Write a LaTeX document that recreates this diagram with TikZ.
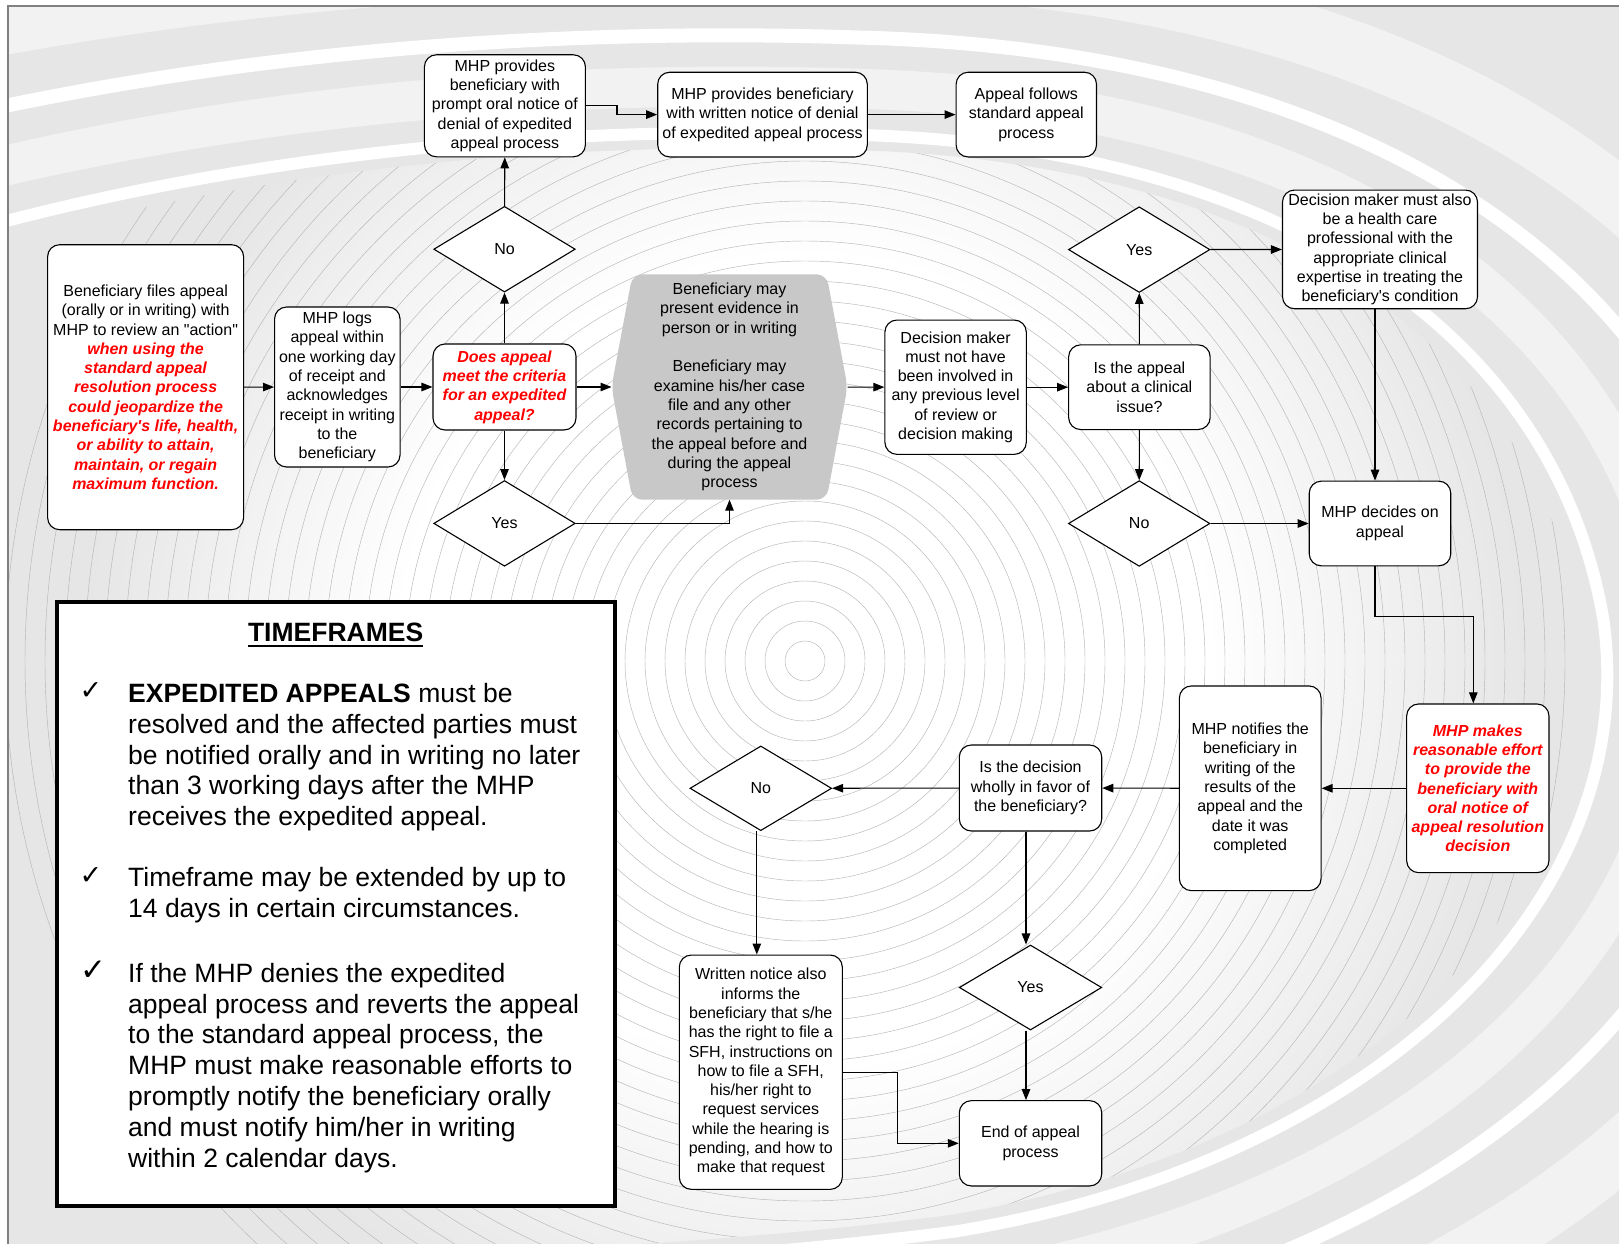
\documentclass[tikz,border=0pt]{standalone}
\usepackage{fontspec}
\setmainfont{Liberation Sans}
\newfontfamily\symfont{DejaVu Sans}
\usetikzlibrary{arrows.meta,shapes.geometric,calc}
\definecolor{bggray}{RGB}{230,230,230}
\definecolor{bandlight}{RGB}{242,242,242}
\definecolor{ringgray}{RGB}{182,182,182}
\definecolor{hexgray}{RGB}{200,200,200}
\definecolor{redtext}{RGB}{255,0,0}
\pgfdeclarelayer{back}
\pgfdeclarelayer{mid}
\pgfsetlayers{back,mid,main}
\pgfdeclareradialshading{myrad}{\pgfpointorigin}{color(0bp)=(white); color(14bp)=(white); color(25bp)=(bggray); color(50bp)=(bggray)}
\newcommand{\redln}[1]{\textcolor{redtext}{\bfseries\itshape #1}}
\begin{document}
\begin{tikzpicture}[x=1pt,y=-1pt,
  every node/.style={font=\fontsize{16}{19.3}\selectfont},
  sz/.style 2 args={minimum width=#1pt, minimum height=#2pt},
  box/.style={draw=black, line width=1.1pt, fill=white, rounded corners=12pt, align=center, inner sep=2pt},
  redbox/.style={box, text=redtext, font=\fontsize{16}{19.3}\selectfont\bfseries\itshape},
  dec/.style={diamond, draw=black, line width=1.1pt, fill=white, inner sep=0pt, minimum width=141.5pt, minimum height=85.7pt},
  arr/.style={draw=black, line width=1.1pt, -{Triangle[length=11pt,width=8.5pt]}},
  tftext/.style={font=\fontsize{26.5}{30.8}\selectfont, align=left, inner sep=0pt},
  ck/.style={font=\fontsize{27}{30}\selectfont\symfont, anchor=base, inner sep=0pt}]
\useasboundingbox (0,0) rectangle (1619,1244);

% ---------- background ----------
\begin{pgfonlayer}{back}
\fill[white] (0,0) rectangle (1619,1244);
\begin{scope}
\clip (8,6) rectangle (1619,1244);
\fill[bggray] (8,6) rectangle (1619,1244);
\shade[shading=myrad] (805,661) circle (720);
\foreach \r in {20,40,...,800}
  \draw[ringgray, line width=0.45pt] (805,661) circle (\r);
\fill[bggray, even odd rule] (8,6) rectangle (1619,1244)
  (-30,250) .. controls (250,170) and (550,140) .. (850,150)
  .. controls (1250,160) and (1530,330) .. (1580,620)
  .. controls (1620,900) and (1350,1150) .. (950,1215)
  .. controls (600,1260) and (200,1262) .. (-30,1262) -- cycle;
\foreach \s/\w/\c in {1.03/12/white, 1.12/40/bandlight, 1.22/14/white, 1.36/60/bandlight}
  \draw[\c, line width=\w pt, scale around={\s:(805,661)}]
  (-30,250) .. controls (250,170) and (550,140) .. (850,150)
  .. controls (1250,160) and (1530,330) .. (1580,620)
  .. controls (1620,900) and (1350,1150) .. (950,1215)
  .. controls (600,1260) and (200,1262) .. (-30,1262);
\end{scope}
\draw[gray, line width=1.2pt] (1619,6) -- (8,6) -- (8,1244);
\end{pgfonlayer}

% ---------- nodes ----------
\node[box, sz={196}{285}] (b1) at (145.6,387.2) {Beneficiary files appeal\\(orally or in writing) with\\MHP to review an \textquotedbl action\textquotedbl\\\redln{when using  the}\\\redln{standard appeal}\\\redln{resolution process}\\\redln{could jeopardize the}\\\redln{beneficiary\textquotesingle s life, health,}\\\redln{or ability to attain,}\\\redln{maintain, or regain}\\\redln{maximum function.}};
\node[box, sz={125.5}{160}] (b2) at (337.3,387) {MHP logs\\appeal within\\one working day\\of receipt and\\acknowledges\\receipt in writing\\to the\\beneficiary};
\node[redbox, sz={143}{86}] (crit) at (504.5,387) {Does appeal\\meet the criteria\\for an expedited\\appeal?};
\node[dec] (no1) at (504.5,249.2) {No};
\node[dec] (yes1) at (504.5,523.4) {Yes};
\node[box, sz={161}{102}] (oral) at (504.9,105.8) {MHP provides\\beneficiary with\\prompt oral notice of\\denial of expedited\\appeal process};
\node[box, sz={209.6}{84.7}] (written) at (762.5,114.6) {MHP provides beneficiary\\with written notice of denial\\of expedited appeal process};
\node[box, sz={140.4}{84.7}] (follows) at (1026.3,114.6) {Appeal follows\\standard appeal\\process};
\node[align=center, inner sep=0pt, sz={235.6}{225}] (hex) at (729.5,387) {Beneficiary may\\present evidence in\\person or in writing\\[19.3pt]Beneficiary may\\examine his/her case\\file and any other\\records pertaining to\\the appeal before and\\during the appeal\\process};
\begin{pgfonlayer}{mid}
\fill[hexgray, rounded corners=10pt] (hex.west) -- ($(hex.north west)+(21,0)$) -- ($(hex.north east)+(-21,0)$) -- (hex.east) -- ($(hex.south east)+(-21,0)$) -- ($(hex.south west)+(21,0)$) -- cycle;
\end{pgfonlayer}
\node[box, sz={141.4}{134.3}] (dm) at (955.6,387.2) {Decision maker\\must not have\\been involved in\\any previous level\\of review or\\decision making};
\node[box, sz={141.5}{84.7}] (clin) at (1139.4,387.2) {Is the appeal\\about a clinical\\issue?};
\node[dec] (yes2) at (1139.2,249.6) {Yes};
\node[dec] (no2) at (1139.2,523.5) {No};
\node[box, sz={195}{118.7}, inner sep=1pt] (hcp) at (1380,249.4) {Decision maker must also\\be a health care\\professional with the\\appropriate clinical\\expertise in treating the\\beneficiary\textquotesingle s condition};
\node[box, sz={141.5}{84.7}] (decides) at (1380,523.5) {MHP decides on\\appeal};
\node[redbox, sz={142.3}{168.7}] (reasonable) at (1477.8,788.3) {MHP makes\\reasonable effort\\to provide the\\beneficiary with\\oral notice of\\appeal resolution\\decision};
\node[box, sz={141.7}{204.7}] (notifies) at (1250.2,788.3) {MHP notifies the\\beneficiary in\\writing of the\\results of the\\appeal and the\\date it was\\completed};
\node[box, sz={142.4}{86}] (favor) at (1030.5,788) {Is the decision\\wholly in favor of\\the beneficiary?};
\node[dec, minimum width=141.7pt, minimum height=84.7pt] (no3) at (760.8,788.3) {No};
\node[box, sz={163}{234.3}] (written2) at (760.8,1072.2) {Written notice also\\informs the\\beneficiary that s/he\\has the right to file a\\SFH, instructions on\\how to file a SFH,\\his/her right to\\request services\\while the hearing is\\pending, and how to\\make that request};
\node[dec, minimum width=142.4pt, minimum height=85pt] (yes3) at (1030.5,987.5) {Yes};
\node[box, sz={142.4}{85.3}] (endbox) at (1030.5,1143.3) {End of appeal\\process};

% ---------- timeframes ----------
\node[draw=black, line width=4pt, fill=white, inner sep=0pt, sz={558.6}{604}] (tf) at (336.1,904) {};
\node[font=\fontsize{26.5}{30.8}\selectfont\bfseries, anchor=base, inner sep=0pt] (tftitle) at (335.6,641.5) {TIMEFRAMES};
\draw[line width=2pt] ($(tftitle.base west)+(0,4)$) -- ($(tftitle.base east)+(0,4)$);
\node[ck] (ck1) at (91,699) {✓};
\node[tftext, anchor=north west] (tf1) at (128,680.7) {\strut\textbf{EXPEDITED APPEALS} must be\\resolved and the affected parties must\\be notified orally and in writing no later\\than 3 working days after the MHP\\receives the expedited appeal.};
\node[ck] (ck2) at (91,884) {✓};
\node[tftext, anchor=north west] (tf2) at (128,864.5) {\strut Timeframe may be extended by up to\\14 days in certain circumstances.};
\node[ck, font=\fontsize{31}{34}\selectfont\symfont] (ck3) at (93,980) {✓};
\node[tftext, anchor=north west] (tf3) at (128,960.5) {\strut If the MHP denies the expedited\\appeal process and reverts the appeal\\to the standard appeal process, the\\MHP must make reasonable efforts to\\promptly notify the beneficiary orally\\and must notify him/her in writing\\within 2 calendar days.};

% ---------- connectors ----------
\draw[arr] (b1) -- (b2);
\draw[arr] (b2) -- (crit);
\draw[arr] (crit) -- (hex);
\draw[arr] (crit) -- (no1);
\draw[arr] (no1) -- (oral);
\draw[arr] (crit) -- (yes1);
\draw[arr] (yes1.east) -| (hex.south);
\draw[arr] (oral.east) -- ++(31,0) |- (written.west);
\draw[arr] (written) -- (follows);
\draw[arr] (hex) -- (dm);
\draw[arr] (dm) -- (clin);
\draw[arr] (clin) -- (yes2);
\draw[arr] (yes2) -- (hcp);
\draw[arr] (clin) -- (no2);
\draw[arr] (no2) -- (decides);
\draw[arr] ([xshift=-5pt]hcp.south) -- ([xshift=-5pt]decides.north);
\draw[arr] ([xshift=-5pt]decides.south) -- ++(0,50.4) -| ([xshift=-4.5pt]reasonable.north);
\draw[arr] (reasonable) -- (notifies);
\draw[arr] (notifies) -- (favor);
\draw[arr] (favor) -- (no3);
\draw[arr] ([xshift=-4pt]no3.south) -- ([xshift=-4pt]no3.south |- written2.north);
\draw[arr] ([xshift=-4.5pt]favor.south) -- ([xshift=-4.5pt]favor.south |- yes3.north);
\draw[arr] ([xshift=-4.5pt]yes3.south) -- ([xshift=-4.5pt]yes3.south |- endbox.north);
\draw[arr] (written2.east) -- ++(54.4,0) |- (endbox.west);
\end{tikzpicture}
\end{document}
